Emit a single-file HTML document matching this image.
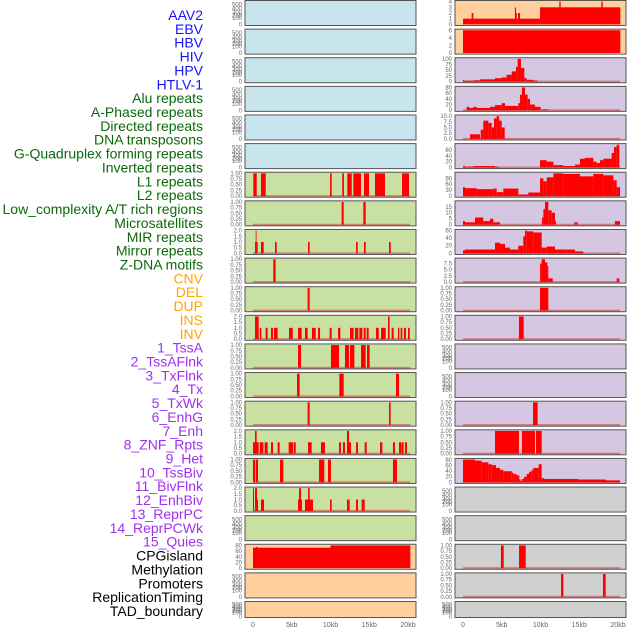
<!DOCTYPE html>
<html><head><meta charset="utf-8"><style>
body{margin:0;background:#fff;width:630px;height:630px;overflow:hidden}
svg{display:block;font-family:"Liberation Sans",sans-serif}
</style></head><body>
<svg id="c" width="630" height="630"></svg>
<script>
const trackNames=["AAV2","EBV","HBV","HIV","HPV","HTLV-1","Alu repeats","A-Phased repeats","Directed repeats","DNA transposons","G-Quadruplex forming repeats","Inverted repeats","L1 repeats","L2 repeats","Low_complexity A/T rich regions","Microsatellites","MIR repeats","Mirror repeats","Z-DNA motifs","CNV","DEL","DUP","INS","INV","1_TssA","2_TssAFlnk","3_TxFlnk","4_Tx","5_TxWk","6_EnhG","7_Enh","8_ZNF_Rpts","9_Het","10_TssBiv","11_BivFlnk","12_EnhBiv","13_ReprPC","14_ReprPCWk","15_Quies","CPGisland","Methylation","Promoters","ReplicationTiming","TAD_boundary"];
const trackGroups=[6,13,5,15,5];
const groupColors=["#1515f5","#0a6a0a","#ffa500","#a030f0","#000000"];
const xTickLabels=["0","5kb","10kb","15kb","20kb"];
const xTickValues=[0,5,10,15,20];
const t01=["0.00","0.25","0.50","0.75","1.00"], v01=[0,0.25,0.5,0.75,1];
const t02=["0.0","0.5","1.0","1.5","2.0"], v02=[0,0.5,1,1.5,2];
// ---- left column data [startKb,endKb,value]
const L7=[[0.04,0.48,1],[1.03,1.64,1],[9.94,10.15,1],[11.52,11.74,1],[12.17,12.74,1],[12.94,13.94,1],[14.32,14.97,1],[15.74,17.03,1],[19.23,20.13,1]];
const L8=[[11.44,11.7,1],[14.24,14.54,1]];
const L9=[[0.26,0.6,1],[0.35,0.45,2],[1.03,1.38,1],[2.84,3.06,1],[7.1,7.31,1],[13.3,13.51,1],[14.32,14.54,1],[17.55,17.77,1]];
const L10=[[2.62,2.92,1]];
const L11=[[7.05,7.31,1]];
const L12=[[0.26,0.73,2],[0.87,1.08,1],[1.63,1.89,1],[2.32,2.58,1],[2.71,3.18,1],[4.65,5.12,1],[5.81,6.28,1],[6.71,7.05,1],[7.61,8.09,1],[8.39,8.65,1],[9.89,10.15,1],[10.97,11.27,1],[12.52,12.99,1],[13.16,13.59,1],[13.72,14.11,1],[14.28,14.54,1],[14.67,14.92,1],[15.87,16.22,1],[16.52,17.12,1],[17.42,17.63,2],[17.89,18.15,1],[18.71,18.88,1],[19.05,19.27,1],[19.48,19.74,1],[20.0,20.22,1]];
const L13=[[5.81,6.2,1],[10.06,11.1,1],[11.87,12.39,1],[12.52,13.08,1],[13.94,14.54,1],[14.71,15.05,1]];
const L14=[[5.68,6.02,1],[11.14,11.7,1],[18.45,18.84,1]];
const L15=[[7.05,7.31,1],[17.55,17.76,1]];
const L16=[[0.0,0.73,1],[0.26,0.47,2],[0.87,1.34,1],[1.5,1.89,1],[2.32,2.58,1],[3.18,3.44,1],[4.6,5.16,1],[5.25,5.51,1],[7.1,7.57,1],[8.77,9.29,1],[11.1,11.35,1],[11.61,11.87,1],[12.13,12.65,1],[12.13,12.39,2],[13.3,13.55,1],[14.41,14.67,1],[16.39,16.69,1],[18.06,18.32,1],[18.84,19.1,1],[19.14,19.44,1],[19.61,19.87,1]];
const L17=[[0,0.3,1],[0.39,0.65,1],[3.48,3.91,1],[8.52,9.2,1],[9.68,10.06,1],[18.06,18.58,1]];
const L18=[[0,0.13,2],[0.26,0.52,2],[0.52,0.65,1],[1.03,1.42,1],[5.81,6.32,1],[5.94,6.2,2],[6.71,7.74,1],[7.1,7.31,2],[9.94,10.15,1],[12.13,12.47,1],[13.3,13.55,1],[14.02,14.41,1]];
const L20=[[0,10,72],[0.4,0.6,75],[10,20.3,80]];
// ---- right column data
const R1=[[0,9.94,1],[1.12,1.33,2],[6.7,6.84,3],[6.84,6.95,2],[7.1,7.35,2],[9.94,20.3,3],[12.43,12.6,4],[17.85,18.03,4]];
const R2=[[0,20.3,6]];
const R3=[[0,0.17,7],[0.17,1.33,4],[1.33,2.19,6],[2.19,4.13,10],[4.13,4.99,15],[4.99,5.63,18],[5.63,6.28,30],[6.28,6.84,45],[6.84,7.05,65],[7.05,7.48,100],[7.48,7.91,60],[7.91,8.22,15],[8.22,9.08,8],[9.08,9.59,5]];
const R4=[[0.47,0.82,12],[0.82,1.33,8],[1.33,1.76,12],[1.76,3.48,8],[3.48,4.13,12],[4.13,4.99,18],[4.99,5.42,25],[5.42,7.14,15],[7.14,7.35,25],[7.35,7.61,55],[7.61,8.0,80],[8.0,8.34,55],[8.34,8.65,40],[8.65,9.29,20],[9.29,10.02,12],[10.15,11.01,3]];
const R5=[[0.9,2.19,2],[2.28,2.62,4],[2.62,3.27,8],[3.27,3.7,7],[3.7,4.0,5],[4.0,4.34,9],[4.34,4.65,10],[4.65,4.99,8],[4.99,5.38,5]];
const R6=[[0,0.26,5],[0.26,1.33,3],[1.33,4.13,5],[4.13,4.65,3],[9.94,10.8,25],[10.8,11.66,20],[11.66,12.95,8],[12.95,14.45,5],[14.45,15.1,10],[15.1,15.74,30],[15.74,16.82,33],[16.82,17.25,20],[17.25,17.68,15],[17.68,18.11,25],[18.11,19.18,30],[19.18,19.48,50],[19.48,19.83,70],[19.83,20.17,78]];
const R7=[[0,0.26,45],[0.26,1.76,40],[1.76,3.91,35],[3.91,4.34,38],[4.34,5.2,20],[5.2,7.14,38],[7.14,8.43,8],[8.43,9.94,18],[9.94,10.37,90],[10.37,10.8,75],[10.8,11.66,95],[11.66,12.95,115],[12.95,15.1,112],[15.1,16.82,100],[16.82,18.11,112],[18.11,19.4,105],[19.4,19.83,80],[19.83,20.26,45]];
const R8=[[0,0.26,3],[0.26,1.55,2],[1.55,2.62,6],[2.62,3.48,3],[3.48,3.91,5],[3.91,4.77,2],[10.19,10.37,6],[10.37,10.58,13],[10.58,11.01,19],[11.01,11.44,12],[11.44,11.87,10],[11.87,12.0,3],[14.37,14.8,2],[19.61,20.26,3]];
const R9=[[0,0.26,8],[0.26,4.13,10],[4.13,4.77,28],[4.77,5.42,25],[5.42,6.06,15],[6.06,7.14,10],[7.14,7.78,20],[7.78,8.0,45],[8.0,8.22,60],[8.22,9.08,58],[9.08,10.15,55],[10.15,10.8,15],[10.8,11.87,18],[11.87,13.38,10],[13.38,14.45,10],[14.45,15.53,5]];
const R10=[[9.94,10.15,7.5],[10.15,10.58,9.3],[10.58,10.88,8],[10.88,11.01,6.5],[11.01,11.57,1.5],[19.83,20.17,1.5]];
const R11=[[9.94,11.01,1]];
const R12=[[7.22,7.83,1]];
const R15=[[9.03,9.63,1]];
const R16=[[4.13,7.22,1],[7.61,9.29,1],[9.42,10.15,1]];
const R17=[[0,1.55,82],[1.55,2.41,78],[2.41,3.27,72],[3.27,3.7,65],[3.7,4.26,62],[4.26,4.77,52],[4.77,5.2,45],[5.2,6.28,40],[6.28,6.49,35],[6.49,6.92,30],[6.92,7.27,25],[7.27,7.44,10],[7.44,7.61,5],[7.61,7.87,12],[7.87,8.22,20],[8.22,8.52,30],[8.52,8.86,38],[8.86,9.08,45],[9.08,9.76,52],[9.76,10.15,65],[10.15,10.45,15],[10.45,14.88,12],[14.88,18.45,10],[18.45,20.26,7]];
const R20=[[4.9,5.25,1],[7.23,8.09,1]];
const R21=[[12.65,12.95,1],[18.06,18.41,1]];

const BLUE="#c8e4ec",GREEN="#c8e0a2",ORANGE="#ffcf9e",PURPLE="#d5c6e2",GRAY="#d0d0d0";
// panel list: [col,row,bg,data,max,tickLabels,tickValues,baseline]
const panels=[];
for(let r=0;r<6;r++)panels.push([0,r,BLUE,null]);
const leftData=[L7,L8,L9,L10,L11,L12,L13,L14,L15,L16,L17,L18,null];
const leftMax=[1,1,2,1,1,2,1,1,1,2,1,2,0];
for(let r=6;r<19;r++){const d=leftData[r-6];panels.push([0,r,GREEN,d,leftMax[r-6],leftMax[r-6]==2?t02:t01,leftMax[r-6]==2?v02:v01,true]);}
panels.push([0,19,ORANGE,L20,80,["0","20","40","60","80"],[0,20,40,60,80],false]);
panels.push([0,20,ORANGE,null]);panels.push([0,21,ORANGE,null]);
panels.push([1,0,ORANGE,R1,4,["0","1","2","3","4"],[0,1,2,3,4],false]);
panels.push([1,1,ORANGE,R2,6,["0","2","4","6"],[0,2,4,6],false]);
panels.push([1,2,PURPLE,R3,100,["0","25","50","75","100"],[0,25,50,75,100],true]);
panels.push([1,3,PURPLE,R4,80,["0","20","40","60","80"],[0,20,40,60,80],true]);
panels.push([1,4,PURPLE,R5,10,["0.0","2.5","5.0","7.5","10.0"],[0,2.5,5,7.5,10],true]);
panels.push([1,5,PURPLE,R6,78,["0","20","40","60"],[0,20,40,60],true]);
panels.push([1,6,PURPLE,R7,115,["0","30","60","90"],[0,30,60,90],true]);
panels.push([1,7,PURPLE,R8,19,["0","5","10","15"],[0,5,10,15],true]);
panels.push([1,8,PURPLE,R9,60,["0","20","40","60"],[0,20,40,60],true]);
panels.push([1,9,PURPLE,R10,9.3,["0.0","2.5","5.0","7.5"],[0,2.5,5,7.5],true]);
panels.push([1,10,PURPLE,R11,1,t01,v01,true]);
panels.push([1,11,PURPLE,R12,1,t01,v01,true]);
panels.push([1,12,PURPLE,null]);panels.push([1,13,PURPLE,null]);
panels.push([1,14,PURPLE,R15,1,t01,v01,true]);
panels.push([1,15,PURPLE,R16,1,t01,v01,true]);
panels.push([1,16,PURPLE,R17,82,["0","20","40","60","80"],[0,20,40,60,80],true]);
panels.push([1,17,GRAY,null]);panels.push([1,18,GRAY,null]);
panels.push([1,19,GRAY,R20,1,t01,v01,true]);
panels.push([1,20,GRAY,R21,1,t01,v01,true]);
panels.push([1,21,GRAY,null]);

const svg=document.getElementById('c');const NS="http://www.w3.org/2000/svg";
function mk(tag,attrs,parent){const e=document.createElementNS(NS,tag);for(const k in attrs)e.setAttribute(k,attrs[k]);(parent||svg).appendChild(e);return e;}
const colX=[245,455],plotW=171,kbPx=7.75,x0Off=8;
function rowTop(r){return 0.5+r*28.62;}
function rowH(r){return r==21?16:25;}
function xs(col,kb){return colX[col]+x0Off+kb*kbPx;}

// labels
let k=0;
trackGroups.forEach((n,gi)=>{for(let i=0;i<n;i++){const t=mk('text',{x:203,y:15+k*13.86+5,'text-anchor':'end','font-size':'14',fill:groupColors[gi]});t.textContent=trackNames[k];


k++;}});

panels.forEach(p=>{
  const [col,r,bg,data,M,tl,tv,base]=p;
  const top=rowTop(r),h=rowH(r),x=colX[col];
  const g=mk('g',{});
  
  
  mk('rect',{x:x,y:top,width:plotW,height:h,fill:bg},g);
  if(data){
    const ymin=-0.05*M,ymax=1.05*M;
    const ys=v=>top+h-(v-ymin)/(ymax-ymin)*h;
    if(base){const l=mk('line',{x1:xs(col,0),x2:xs(col,20.3),y1:ys(0),y2:ys(0),stroke:'rgba(215,60,60,0.55)','stroke-width':2},g);
      
      }
    data.forEach(s=>{const b=mk('rect',{x:xs(col,s[0]),y:ys(s[2]),width:Math.max(0.8,(s[1]-s[0])*kbPx),height:ys(0)-ys(s[2]),fill:'#ff0000'},g);
      
      });
    tl.forEach((lab,i)=>{const t=mk('text',{x:x-3,y:ys(tv[i])+2,'text-anchor':'end','font-size':'6',fill:'#666'},g);t.textContent=lab;
      
      });
  } else {
    const emptyL=["0","100","200","300","400","500"];const fr=[0,0.3,0.42,0.55,0.72,0.92];
    emptyL.forEach((lab,i)=>{const t=mk('text',{x:x-3,y:top+h-1-fr[i]*(h-3)+2,'text-anchor':'end','font-size':'6',fill:'#666'},g);t.textContent=lab;
      
      });
  }
  mk('rect',{x:x,y:top,width:plotW,height:h,fill:'none',stroke:'#555','stroke-width':1},g);
});
[0,1].forEach(col=>{xTickValues.forEach((v,i)=>{const t=mk('text',{x:xs(col,v),y:627,'text-anchor':'middle','font-size':'7',fill:'#666'});t.textContent=xTickLabels[i];
  
  });});
</script>
</body></html>
